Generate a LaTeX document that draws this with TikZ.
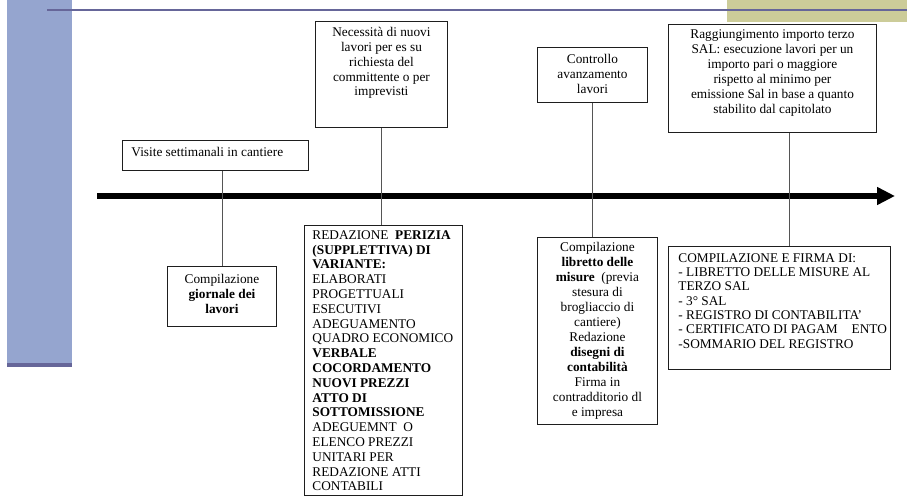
\documentclass[tikz,border=0pt]{standalone}
\usepackage{fontspec}
\setmainfont{Liberation Serif}
\usetikzlibrary{arrows.meta}
\definecolor{barblue}{RGB}{149,165,207}
\definecolor{lineblue}{RGB}{102,102,153}
\definecolor{khakibar}{RGB}{204,204,153}
\definecolor{connclr}{RGB}{85,85,85}
\definecolor{boxclr}{RGB}{30,30,30}
\newcommand{\mybox}[4]{\parbox[c][#2][t]{#1}{\vspace*{#3}#4\par}}
\begin{document}
\begin{tikzpicture}[x=1pt,y=-1pt,
  box/.style={draw=boxclr, line width=0.9pt, inner sep=0pt, anchor=north west,
    font=\fontsize{13.3}{14.8}\selectfont},
  conn/.style={draw=connclr, line width=0.9pt},
  timeline/.style={line width=6pt, -{Triangle[length=18pt,width=17pt]}}]
\useasboundingbox (0,0) rectangle (907,497);
% background decoration
\fill[barblue] (7,0) rectangle (72,365);
\fill[lineblue] (7,363) rectangle (72,367);
\fill[khakibar] (727,0) rectangle (907,22);
\fill[lineblue] (47,9) rectangle (907,11);

% timeline
\coordinate (tl0) at (97,196);
\coordinate (tl1) at (895,196);
\draw[timeline] (tl0) -- (tl1);

% upper boxes
\node[box] (visite) at (122,140)
  {\mybox{186pt}{30pt}{7pt}{\hspace*{9pt}Visite settimanali in cantiere}};
\node[box] (necess) at (315,21)
  {\mybox{132pt}{106pt}{6pt}{\centering Necessità di nuovi\\ lavori per es su\\ richiesta del\\ committente o per\\ imprevisti}};
\node[box] (controllo) at (537,47)
  {\mybox{110pt}{55pt}{7pt}{\centering Controllo\\ avanzamento\\ lavori}};
\node[box] (ragg) at (668,24)
  {\mybox{208pt}{108pt}{5pt}{\fontsize{13.3}{15}\selectfont\centering Raggiungimento importo terzo\\ SAL: esecuzione lavori per un\\ importo pari o maggiore\\ rispetto al minimo per\\ emissione Sal in base a quanto\\ stabilito dal capitolato}};

% lower boxes
\node[box] (giornale) at (167,266)
  {\mybox{109pt}{60pt}{8pt}{\centering Compilazione\\ \textbf{giornale dei}\\ \textbf{lavori}}};
\node[box] (redaz) at (304,225)
  {\mybox{158pt}{270pt}{5pt}{\raggedright\leftskip=8pt REDAZIONE~~\textbf{PERIZIA}\\
   \textbf{(SUPPLETTIVA) DI}\\ \textbf{VARIANTE:}\\ ELABORATI\\ PROGETTUALI\\ ESECUTIVI\\
   ADEGUAMENTO\\ QUADRO ECONOMICO\\ \textbf{VERBALE}\\ \textbf{COCORDAMENTO}\\
   \textbf{NUOVI PREZZI}\\ \textbf{ATTO DI}\\ \textbf{SOTTOMISSIONE}\\ ADEGUEMNT~~O\\
   ELENCO PREZZI\\ UNITARI PER\\ REDAZIONE ATTI\\ CONTABILI}};
\node[box] (libretto) at (537,237)
  {\mybox{120pt}{187pt}{5pt}{\fontsize{13.3}{15}\selectfont\centering Compilazione\\ \textbf{libretto delle}\\
   \textbf{misure}~~(previa\\ stesura di\\ brogliaccio di\\ cantiere)\\ Redazione\\
   \textbf{disegni di}\\ \textbf{contabilità}\\ Firma in\\ contradditorio dl\\ e impresa}};
\node[box] (compil) at (668,246)
  {\mybox{222pt}{123pt}{7pt}{\fontsize{13.3}{14.3}\selectfont\raggedright\leftskip=10pt COMPILAZIONE E FIRMA DI:\\
   - LIBRETTO DELLE MISURE AL\\ TERZO SAL\\ - 3° SAL\\ - REGISTRO DI CONTABILITA’\\
   - CERTIFICATO DI PAGAM\hspace*{14pt}ENTO\\ -SOMMARIO DEL REGISTRO}};

% connectors
\draw[conn] (giornale.north) -- (giornale.north |- visite.south);
\draw[conn] (necess.south) -- (necess.south |- redaz.north);
\draw[conn] (controllo.south) -- (controllo.south |- libretto.north);
\draw[conn] (ragg.south west) ++(121,0) coordinate (raggc) -- (raggc |- compil.north);
\end{tikzpicture}
\end{document}
